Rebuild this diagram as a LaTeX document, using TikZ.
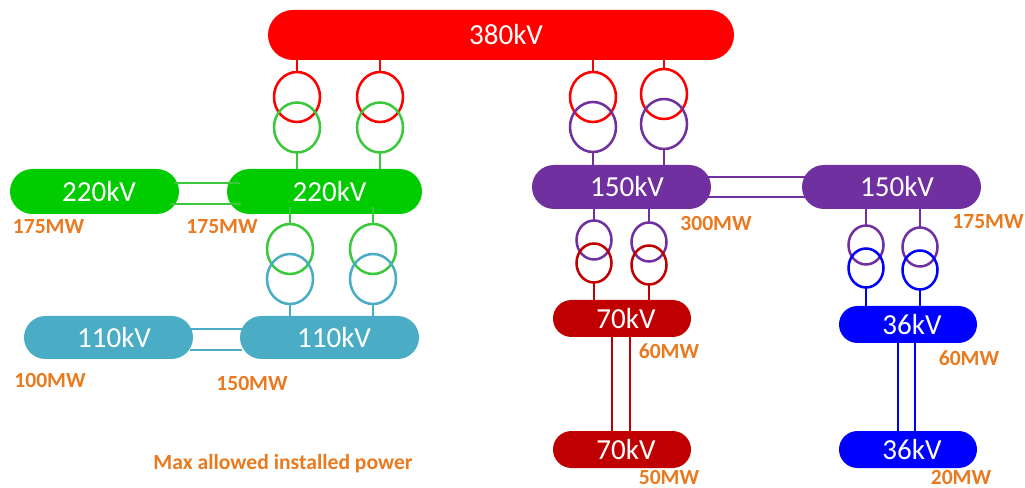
\documentclass[tikz,border=0pt]{standalone}
\usepackage{fontspec}
\setmainfont{Carlito}
\usetikzlibrary{shapes.misc,shapes.geometric}
\newdimen\pxu \pxu=0.75pt
\definecolor{cRed}{HTML}{FF0000}
\definecolor{cGreen}{HTML}{00CC00}
\definecolor{cGreenL}{HTML}{3CC83C}
\definecolor{cTeal}{HTML}{4BACC6}
\definecolor{cPurple}{HTML}{7030A0}
\definecolor{cDark}{HTML}{C00000}
\definecolor{cBlue}{HTML}{0000FF}
\definecolor{cOrange}{HTML}{E97A1F}
\tikzset{
  bus/.style={rounded rectangle,fill=#1,text=white,inner sep=0pt,outer sep=0pt,
    font=\fontsize{21.8}{24}\selectfont},
  sz/.style 2 args={minimum width=#1*\pxu,minimum height=#2*\pxu},
  big/.style={ellipse,draw=#1,line width=1.9pt,inner sep=0pt,outer sep=0pt,
    minimum width=46*\pxu,minimum height=50*\pxu},
  small/.style={ellipse,draw=#1,line width=1.9pt,inner sep=0pt,outer sep=0pt,
    minimum width=35*\pxu,minimum height=39*\pxu},
  wire/.style={draw=#1,line width=1.9pt},
  mw/.style={text=cOrange,inner sep=0pt,font=\bfseries\fontsize{16.2}{18}\selectfont},
}
\begin{document}
\begin{tikzpicture}[x=0.75pt,y=-0.75pt]
\useasboundingbox (0,0) rectangle (1025,488);
% buses
\node[bus=cRed,sz={466}{50}] (b380) at (501,35) {\kern7.5pt 380kV};
\node[bus=cGreen,sz={169}{45}] (g1) at (94.5,191.5) {\kern6.75pt 220kV};
\node[bus=cGreen,sz={195}{45}] (g2) at (324.5,191.5) {\kern7.5pt 220kV};
\node[bus=cTeal,sz={169}{43}] (t1) at (108.5,337.5) {\kern8.25pt 110kV};
\node[bus=cTeal,sz={179}{43}] (t2) at (329.5,337.5) {\kern6.75pt 110kV};
\node[bus=cPurple,sz={179}{44}] (p1) at (621.5,187) {\kern8.25pt 150kV};
\node[bus=cPurple,sz={179}{44}] (p2) at (891.5,187) {\kern8.25pt 150kV};
\node[bus=cDark,sz={138}{37}] (d1) at (622,318.5) {\kern6pt 70kV};
\node[bus=cDark,sz={138}{37}] (d2) at (622,449.5) {\kern6pt 70kV};
\node[bus=cBlue,sz={138}{37}] (u1) at (908,324.5) {\kern6pt 36kV};
\node[bus=cBlue,sz={138}{37}] (u2) at (908,449.5) {\kern6pt 36kV};
% transformers 380/220
\node[big=cRed] (a1) at (297,97) {};
\node[big=cGreenL] (a2) at (297,127.5) {};
\node[big=cRed] (c1) at (380,97) {};
\node[big=cGreenL] (c2) at (380,127.5) {};
% transformers 380/150
\node[big=cRed] (e1) at (593,97) {};
\node[big=cPurple] (e2) at (593,127) {};
\node[big=cRed] (f1) at (664,94) {};
\node[big=cPurple] (f2) at (664,124) {};
% transformers 220/110
\node[big=cGreenL] (h1) at (290,249) {};
\node[big=cTeal] (h2) at (290,279) {};
\node[big=cGreenL] (i1) at (373,249) {};
\node[big=cTeal] (i2) at (373,279) {};
% transformers 150/70
\node[small=cPurple] (j1) at (594,240) {};
\node[small=cDark] (j2) at (594,263) {};
\node[small=cPurple] (k1) at (649,242) {};
\node[small=cDark] (k2) at (649,265) {};
% transformers 150/36
\node[small=cPurple] (m1) at (866,245) {};
\node[small=cBlue] (m2) at (866,268) {};
\node[small=cPurple] (n1) at (920,247) {};
\node[small=cBlue] (n2) at (920,270) {};
% feeders
\draw[wire=cRed] (a1.north |- b380.south) -- (a1.north);
\draw[wire=cRed] (c1.north |- b380.south) -- (c1.north);
\draw[wire=cRed] (e1.north |- b380.south) -- (e1.north);
\draw[wire=cRed] (f1.north |- b380.south) -- (f1.north);
\draw[wire=cGreenL] (a2.south) -- (a2.south |- g2.north);
\draw[wire=cGreenL] (c2.south) -- (c2.south |- g2.north);
\draw[wire=cPurple] (e2.south) -- (e2.south |- p1.north);
\draw[wire=cPurple] (f2.south) -- (f2.south |- p1.north);
\draw[wire=cGreenL] ([yshift=7*\pxu]h1.north |- g2.south) -- (h1.north);
\draw[wire=cGreenL] ([yshift=7*\pxu]i1.north |- g2.south) -- (i1.north);
\draw[wire=cTeal] (h2.south) -- (h2.south |- t2.north);
\draw[wire=cTeal] (i2.south) -- (i2.south |- t2.north);
\draw[wire=cPurple] (j1.north |- p1.south) -- (j1.north);
\draw[wire=cPurple] (k1.north |- p1.south) -- (k1.north);
\draw[wire=cPurple] (m1.north |- p2.south) -- (m1.north);
\draw[wire=cPurple] (n1.north |- p2.south) -- (n1.north);
\draw[wire=cDark] (j2.south) -- (j2.south |- d1.north);
\draw[wire=cDark] (k2.south) -- (k2.south |- d1.north);
\draw[wire=cBlue] (m2.south) -- (m2.south |- u1.north);
\draw[wire=cBlue] (n2.south) -- (n2.south |- u1.north);
% ties
\draw[wire=cGreenL] ([xshift=-5*\pxu,yshift=8.5*\pxu]g1.east) -- ([xshift=13*\pxu,yshift=8.5*\pxu]g2.west);
\draw[wire=cGreenL] ([xshift=-9*\pxu,yshift=-12.5*\pxu]g1.east) -- ([xshift=14*\pxu,yshift=-12.5*\pxu]g2.west);
\draw[wire=cTeal] ([xshift=-3*\pxu,yshift=8.5*\pxu]t1.east) -- ([xshift=2*\pxu,yshift=8.5*\pxu]t2.west);
\draw[wire=cTeal] ([xshift=-3*\pxu,yshift=-12.5*\pxu]t1.east) -- ([xshift=2*\pxu,yshift=-12.5*\pxu]t2.west);
\draw[wire=cPurple] ([xshift=-6*\pxu,yshift=10*\pxu]p1.east) -- ([xshift=6*\pxu,yshift=10*\pxu]p2.west);
\draw[wire=cPurple] ([xshift=-6*\pxu,yshift=-10*\pxu]p1.east) -- ([xshift=6*\pxu,yshift=-10*\pxu]p2.west);
\draw[wire=cDark] ([xshift=-10*\pxu]d1.south) -- ([xshift=-10*\pxu]d2.north);
\draw[wire=cDark] ([xshift=8*\pxu]d1.south) -- ([xshift=8*\pxu]d2.north);
\draw[wire=cBlue] ([xshift=-10*\pxu]u1.south) -- ([xshift=-10*\pxu]u2.north);
\draw[wire=cBlue] ([xshift=7*\pxu]u1.south) -- ([xshift=7*\pxu]u2.north);
% labels
\node[mw] (l1) at (48.5,227) {175MW};
\node[mw] (l2) at (222,227) {175MW};
\node[mw] (l3) at (50,380) {100MW};
\node[mw] (l4) at (252,383) {150MW};
\node[mw] (l5) at (716,223) {300MW};
\node[mw] (l6) at (988,222) {175MW};
\node[mw] (l7) at (669,351) {60MW};
\node[mw] (l8) at (969,358) {60MW};
\node[mw] (l9) at (669,477) {50MW};
\node[mw] (l10) at (961,477) {20MW};
\node[mw] (l11) at (283,464) {Max allowed installed power};
\end{tikzpicture}
\end{document}
